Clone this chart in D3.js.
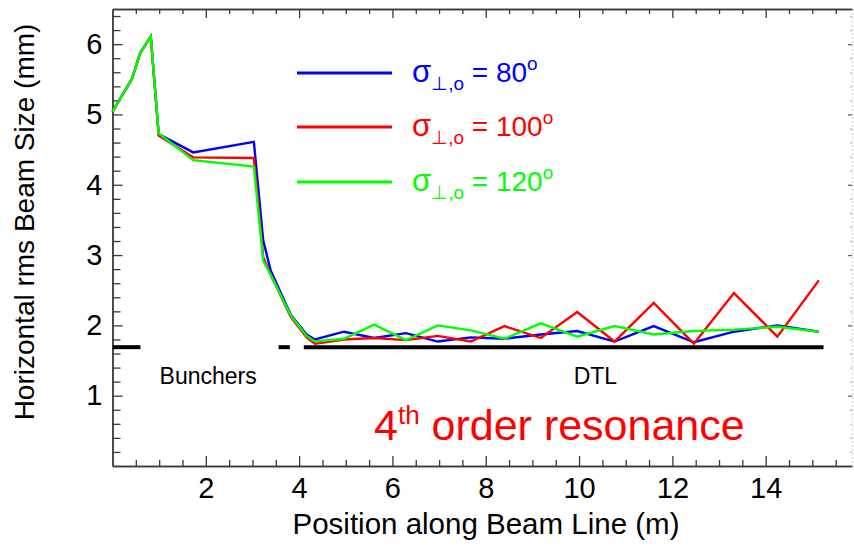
<!DOCTYPE html>
<html>
<head>
<meta charset="utf-8">
<script src="https://cdn.jsdelivr.net/npm/d3@7"></script>
<style>
  html, body { margin: 0; padding: 0; background: #fff; }
  svg { display: block; font-family: "Liberation Sans", Arial, sans-serif; }
</style>
</head>
<body>
<svg id="chart" width="854" height="553"></svg>
<script>
// Position along the beam line (m) for each sample
const positions = [0, 0.42, 0.59, 0.82, 0.99, 1.73, 3.03, 3.23, 3.39, 3.82, 4.16, 4.34,
  4.96, 5.61, 6.29, 6.97, 7.68, 8.40, 9.18, 9.96, 10.76, 11.60, 12.46, 13.32, 14.25, 15.14];

// Horizontal rms beam size (mm) for each zero-current phase advance
const size80 = [5.04, 5.51, 5.87, 6.11, 4.72, 4.46, 4.61, 3.21, 2.78, 2.15, 1.87, 1.80,
  1.91, 1.82, 1.89, 1.77, 1.83, 1.81, 1.87, 1.92, 1.77, 1.99, 1.76, 1.91, 2.00, 1.91];
const size100 = [5.04, 5.51, 5.87, 6.11, 4.70, 4.39, 4.38, 2.97, 2.72, 2.12, 1.83, 1.74,
  1.80, 1.82, 1.79, 1.85, 1.77, 1.99, 1.82, 2.19, 1.77, 2.32, 1.74, 2.46, 1.84, 2.64];
const size120 = [5.04, 5.51, 5.87, 6.11, 4.73, 4.35, 4.26, 2.92, 2.72, 2.14, 1.85, 1.77,
  1.81, 2.01, 1.79, 2.00, 1.93, 1.81, 2.03, 1.84, 1.99, 1.87, 1.92, 1.94, 1.98, 1.91];

const seriesNames = ["80", "100", "120"];
const seriesColors = ["#0000ff", "#ff0000", "#00ff00"];

// Beam line sections marked under the curves
const sectionStarts = [0, 3.56, 4.10];
const sectionEnds = [0.60, 3.80, 15.24];
const sectionLevel = 1.69;
const sectionLabels = ["Bunchers", "DTL"];
const sectionLabelPos = [2.05, 10.35];

const xMajor = [2, 4, 6, 8, 10, 12, 14];
const yMajor = [1, 2, 3, 4, 5, 6];

const svg = d3.select("#chart");
const plotLeft = 112.5, plotRight = 852, plotTop = 9, plotBottom = 466;

const x = d3.scaleLinear().domain([0, 15.85]).range([plotLeft, plotRight]);
const y = d3.scaleLinear().domain([0, 6.5]).range([plotBottom, plotTop]);

const xMinor = d3.range(0.5, 15.8, 0.5).filter(v => Math.abs(v - Math.round(v / 2) * 2) > 1e-6);
const yMinor = d3.range(0.2, 6.5, 0.2).filter(v => Math.abs(v - Math.round(v)) > 1e-6);

const axisColor = "#3a3a3a";

function styleAxis(g) {
  g.selectAll(".domain").attr("stroke", axisColor).attr("stroke-width", 1.4);
  g.selectAll(".tick line").attr("stroke", axisColor).attr("stroke-width", 1.3);
  g.selectAll(".tick text").attr("fill", "#000").attr("font-family", "Liberation Sans, Arial, sans-serif");
}

// Bottom axis: major labelled ticks and minor ticks, pointing inward
svg.append("g").attr("transform", `translate(0,${plotBottom})`)
  .call(d3.axisBottom(x).tickValues(xMinor).tickSizeInner(-6).tickSizeOuter(0).tickFormat(""))
  .call(styleAxis);
svg.append("g").attr("transform", `translate(0,${plotBottom})`)
  .call(d3.axisBottom(x).tickValues(xMajor).tickSizeInner(-10).tickSizeOuter(0).tickPadding(11).tickFormat(d3.format("d")))
  .call(styleAxis)
  .selectAll(".tick text").attr("font-size", 29);

// Top axis
svg.append("g").attr("transform", `translate(0,${plotTop})`)
  .call(d3.axisTop(x).tickValues(xMinor).tickSizeInner(-5).tickSizeOuter(0).tickFormat(""))
  .call(styleAxis);
svg.append("g").attr("transform", `translate(0,${plotTop})`)
  .call(d3.axisTop(x).tickValues(xMajor).tickSizeInner(-9).tickSizeOuter(0).tickFormat(""))
  .call(styleAxis);

// Left axis
svg.append("g").attr("transform", `translate(${plotLeft},0)`)
  .call(d3.axisLeft(y).tickValues(yMinor).tickSizeInner(-8).tickSizeOuter(0).tickFormat(""))
  .call(styleAxis);
svg.append("g").attr("transform", `translate(${plotLeft},0)`)
  .call(d3.axisLeft(y).tickValues(yMajor).tickSizeInner(-10).tickSizeOuter(0).tickPadding(10).tickFormat(d3.format("d")))
  .call(styleAxis)
  .selectAll(".tick text").attr("font-size", 29);

// Right axis
svg.append("g").attr("transform", `translate(${plotRight},0)`)
  .call(d3.axisRight(y).tickValues(yMinor).tickSizeInner(-2).tickSizeOuter(0).tickFormat(""))
  .call(styleAxis)
  .call(g => g.selectAll(".domain").attr("stroke", "#bbb").attr("stroke-dasharray", "1,3"))
  .call(g => g.selectAll(".tick line").attr("stroke", "#bbb"));
svg.append("g").attr("transform", `translate(${plotRight},0)`)
  .call(d3.axisRight(y).tickValues(yMajor).tickSizeInner(-4).tickSizeOuter(0).tickFormat(""))
  .call(g => g.select(".domain").remove())
  .call(g => g.selectAll(".tick line").attr("stroke", "#666").attr("stroke-width", 1.3));

// Axis titles
svg.append("text")
  .attr("x", 486).attr("y", 534)
  .attr("text-anchor", "middle").attr("font-size", 29.5).attr("fill", "#000")
  .text("Position along Beam Line (m)");
svg.append("text")
  .attr("transform", "translate(34,222) rotate(-90)")
  .attr("text-anchor", "middle").attr("font-size", 28).attr("fill", "#000")
  .text("Horizontal rms Beam Size (mm)");

// Section bars
svg.append("g").selectAll("line")
  .data(d3.range(sectionStarts.length))
  .join("line")
  .attr("x1", i => x(sectionStarts[i]))
  .attr("x2", i => x(sectionEnds[i]))
  .attr("y1", y(sectionLevel)).attr("y2", y(sectionLevel))
  .attr("stroke", "#000").attr("stroke-width", 4);

svg.append("g").selectAll("text")
  .data(sectionLabels)
  .join("text")
  .attr("x", (d, i) => x(sectionLabelPos[i]))
  .attr("y", 384)
  .attr("text-anchor", "middle").attr("font-size", 23).attr("fill", "#000")
  .text(d => d);

// Beam size curves
const series = [size80, size100, size120];
const line = d3.line().x((d, i) => x(positions[i])).y(d => y(d));
svg.append("g").selectAll("path")
  .data(series)
  .join("path")
  .attr("d", d => line(d))
  .attr("fill", "none")
  .attr("stroke", (d, i) => seriesColors[i])
  .attr("stroke-width", 2.4)
  .attr("stroke-linejoin", "miter");

// Legend
const legendRows = [73, 127, 182];
const legend = svg.append("g");
seriesNames.forEach((name, i) => {
  const ly = legendRows[i];
  legend.append("line")
    .attr("x1", 297).attr("x2", 392).attr("y1", ly).attr("y2", ly)
    .attr("stroke", seriesColors[i]).attr("stroke-width", 3);
  const t = legend.append("text")
    .attr("x", 412).attr("y", ly + 9)
    .attr("fill", seriesColors[i]);
  t.append("tspan").attr("font-size", 31).text("σ");
  t.append("tspan").attr("font-size", 19).attr("dy", 8).text("⊥,o");
  t.append("tspan").attr("font-size", 28).attr("dy", -8).text(" = " + name);
  t.append("tspan").attr("font-size", 19).attr("dy", -12).text("o");
});

// Annotation
const note = svg.append("text")
  .attr("x", 374).attr("y", 440)
  .attr("fill", "#ff0000").attr("font-size", 43);
note.append("tspan").text("4");
note.append("tspan").attr("font-size", 26).attr("dy", -16).text("th");
note.append("tspan").attr("dy", 16).text(" order resonance");
</script>
</body>
</html>
